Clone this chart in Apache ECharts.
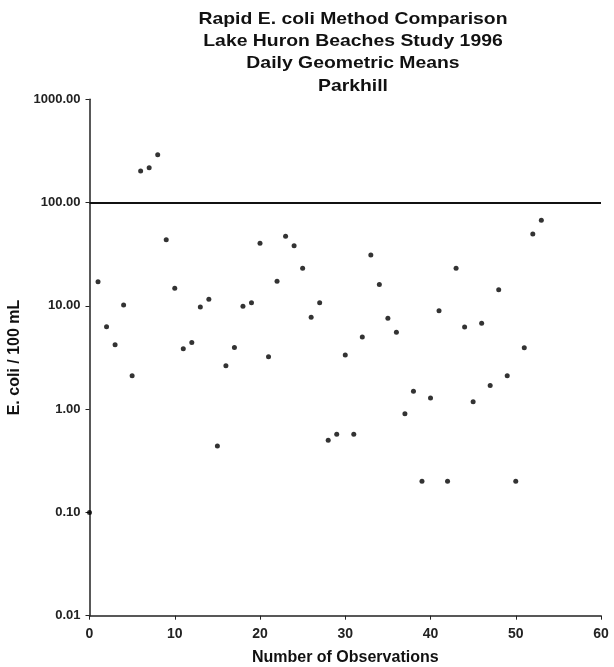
<!DOCTYPE html>
<html><head><meta charset="utf-8">
<script src="https://cdn.jsdelivr.net/npm/echarts@6/dist/echarts.min.js"></script>
<style>html,body{margin:0;padding:0;background:#fff}#c{width:614px;height:667px}</style>
</head><body><div id="c"></div>
<script>
const titleLines = ["Rapid E. coli Method Comparison","Lake Huron Beaches Study 1996","Daily Geometric Means","Parkhill"];
const observations = [0,1,2,3,4,5,6,7,8,9,10,11,12,13,14,15,16,17,18,19,20,21,22,23,24,25,26,27,28,29,30,31,32,33,34,35,36,37,38,39,40,41,42,43,44,45,46,47,48,49,50,51,52,53];
const ecoli = [0.10,17.1,6.28,4.2,10.2,2.1,202,217,290,43.6,14.8,3.84,4.43,9.73,11.6,0.44,2.63,3.96,9.89,10.7,40.3,3.21,17.3,47.1,38.2,23.1,7.74,10.7,0.50,0.57,3.34,0.57,4.99,31.0,16.1,7.57,5.54,0.90,1.49,0.20,1.28,8.97,0.20,23.1,6.24,1.18,6.77,1.69,14.3,2.1,0.20,3.93,49.6,67.3];
const guideline = 100;
const xTicks = [0,10,20,30,40,50,60];
const yTicks = [0.01,0.1,1,10,100,1000];

const chart = echarts.init(document.getElementById('c'));
const font = 'Liberation Sans, Arial, sans-serif';
chart.setOption({
  animation:false,
  backgroundColor:'#fff',
  graphic:[{type:'text',x:353,y:8,scaleX:1.14,silent:true,
    style:{text:titleLines.join('\n'),align:'center',verticalAlign:'top',
      fontFamily:font,fontSize:17,fontWeight:'bold',fill:'#111',lineHeight:22.3}}],
  grid:{left:89.5,right:13,top:99.3,bottom:51.3,containLabel:false,outerBoundsMode:'none'},
  xAxis:{type:'value',min:0,max:60,interval:10,
    name:'Number of Observations',nameLocation:'middle',nameGap:34,
    nameTextStyle:{fontFamily:font,fontSize:16,fontWeight:'bold',color:'#111'},
    axisLine:{lineStyle:{color:'#222',width:1.5}},
    axisTick:{show:true,inside:false,length:4,lineStyle:{color:'#222'}},
    axisLabel:{fontFamily:font,fontSize:14,fontWeight:'bold',color:'#222',margin:11},
    splitLine:{show:false}},
  yAxis:{type:'log',logBase:10,min:0.01,max:1000,
    name:'E. coli / 100 mL',nameLocation:'middle',nameGap:62,nameRotate:90,
    nameTextStyle:{fontFamily:font,fontSize:16,fontWeight:'bold',color:'#111'},
    axisLine:{show:true,lineStyle:{color:'#222',width:1.5}},
    axisTick:{show:true,inside:false,length:4,lineStyle:{color:'#222'}},
    axisLabel:{fontFamily:font,fontSize:13,fontWeight:'bold',color:'#222',margin:9,
      formatter:v=>Number(v).toFixed(2)},
    minorTick:{show:false},
    splitLine:{show:false}},
  series:[{type:'scatter',symbol:'circle',symbolSize:5,
    itemStyle:{color:'#000'},
    data:observations.map((x,i)=>[x,ecoli[i]]),
    markLine:{symbol:'none',silent:true,label:{show:false},
      lineStyle:{color:'#111',width:2,type:'solid'},
      data:[{yAxis:guideline}]}}]
});
</script></body></html>
